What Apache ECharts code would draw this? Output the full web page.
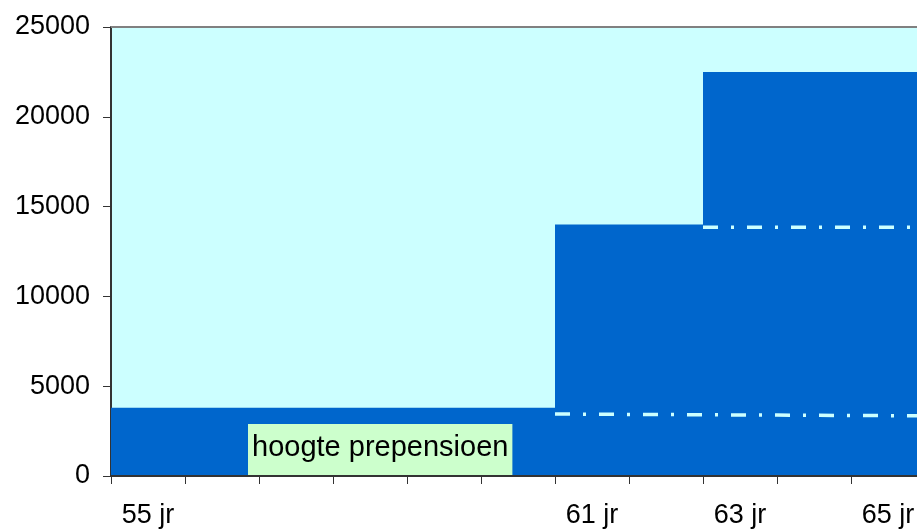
<!DOCTYPE html>
<html><head><meta charset="utf-8">
<script src="https://cdn.jsdelivr.net/npm/echarts@6/dist/echarts.min.js"></script>
<style>html,body{margin:0;padding:0;background:#fff}#c{width:917px;height:529px}</style>
</head><body><div id="c"></div>
<script>
// Categories (years) and tick labels
const years = [55, 56, 57, 58, 59, 60, 61, 62, 63, 64, 65];
const yearLabels = ['55 jr', '', '', '', '', '', '61 jr', '', '63 jr', '', '65 jr'];
// Stepped total (dark blue area), value per year start
const stepAges = [55, 56, 57, 58, 59, 60, 61, 62, 63, 64, 65, 66];
const stepValues = [3800, 3800, 3800, 3800, 3800, 3800, 14000, 14000, 22500, 22500, 22500, 22500];
// Dash-dot lines
const lowAges = [61, 62, 63, 64, 65, 66];
const lowValues = [3450, 3430, 3410, 3390, 3370, 3350];
const highAges = [63, 64, 65, 66];
const highValues = [13850, 13850, 13850, 13850];
const yTicks = [0, 5000, 10000, 15000, 20000, 25000];
const annotation = 'hoogte prepensioen';

const FONT = 'Liberation Sans, Arial, sans-serif';
const chart = echarts.init(document.getElementById('c'), null, {renderer: 'canvas'});
const zip = (a, b) => a.map((v, i) => [v, b[i]]);

chart.setOption({
  animation: false,
  grid: {left: 111, top: 27, width: 814, height: 449, show: true, backgroundColor: '#CCFFFF', borderWidth: 0,
         containLabel: false, outerBoundsMode: 'none'},
  xAxis: [
    {type: 'value', min: 55, max: 66, show: false},
    {type: 'category', data: yearLabels, boundaryGap: true, position: 'bottom',
     axisLine: {lineStyle: {color: '#333', width: 2}},
     axisTick: {show: true, alignWithLabel: false, interval: 0, length: 8, lineStyle: {color: '#333', width: 1}},
     axisLabel: {interval: 0, color: '#000', fontSize: 27, fontFamily: FONT, margin: 26},
     splitLine: {show: false}, z: 10}
  ],
  yAxis: {
    type: 'value', min: yTicks[0], max: yTicks[yTicks.length - 1], interval: 5000,
    axisLine: {show: true, lineStyle: {color: '#333', width: 2}},
    axisTick: {show: true, length: 8, lineStyle: {color: '#333', width: 1}},
    axisLabel: {color: '#000', fontSize: 27, fontFamily: FONT, margin: 21, formatter: v => String(v)},
    splitLine: {show: false}
  },
  graphic: [
    {type: 'line', shape: {x1: 111, y1: 27, x2: 917, y2: 27}, style: {stroke: '#808080', lineWidth: 2}, z: 5},
    {type: 'text', left: 248, top: 424, z: 20,
     style: {text: annotation, font: '29px ' + FONT, fill: '#000', backgroundColor: '#CCFFCC',
             padding: [9, 4, 13, 4]}}
  ],
  series: [
    {type: 'line', xAxisIndex: 0, step: 'end', data: zip(stepAges, stepValues), symbol: 'none',
     lineStyle: {width: 0, color: '#0066CC'}, areaStyle: {color: '#0066CC', opacity: 1}, z: 2},
    {type: 'line', xAxisIndex: 0, data: zip(lowAges, lowValues), symbol: 'none',
     lineStyle: {color: '#CCFFFF', width: 3.5, type: [15, 13, 3, 13]}, z: 3},
    {type: 'line', xAxisIndex: 0, data: zip(highAges, highValues), symbol: 'none',
     lineStyle: {color: '#CCFFFF', width: 3.5, type: [15, 13, 3, 13]}, z: 3}
  ]
});
</script></body></html>
